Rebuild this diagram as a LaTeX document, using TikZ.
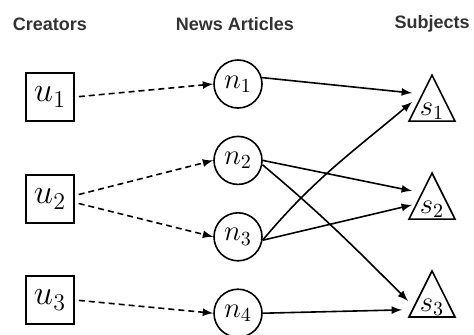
\documentclass[tikz,border=0pt]{standalone}
\usepackage{fontspec}
\newfontfamily\headfont{Liberation Sans}
\usetikzlibrary{shapes.geometric}
\usetikzlibrary{positioning}

\begin{document}
\begin{tikzpicture}[
  head/.style={font=\headfont\bfseries\fontsize{9}{11}\selectfont, text=black!80},
  creator/.style={thick, draw, rectangle, minimum size=24pt, inner sep=0pt, font=\LARGE},
  article/.style={thick, draw, circle, minimum size=24pt, inner sep=0pt, font=\Large},
  subject/.style={thick, draw, isosceles triangle, shape border rotate=90,
    isosceles triangle stretches, minimum width=23pt, minimum height=23pt,
    inner sep=0pt, font=\Large},
  link/.style={-latex, thick},
  wrote/.style={-latex, thick, densely dashed, shorten <=2pt}]
\useasboundingbox (0,0) rectangle (237pt,-167pt);
% column titles
\node[head] (creators) at (25pt,-12pt) {Creators};
\node[head] (articles) at (117.5pt,-12pt) {News Articles};
\node[head] (subjects) at (216pt,-12pt) {Subjects};
% creators
\node[creator] (u1) at (25pt,-48.5pt) {$u_1$};
\node[creator, below=26.2pt of u1] (u2) {$u_2$};
\node[creator, below=25.7pt of u2] (u3) {$u_3$};
% news articles
\node[article] (n1) at (119pt,-42pt) {$n_1$};
\node[article, below=13.4pt of n1] (n2) {$n_2$};
\node[article, below=13.4pt of n2] (n3) {$n_3$};
\node[article, below=13.4pt of n3] (n4) {$n_4$};
% subjects
\node[subject, anchor=north] (s1) at (216pt,-36.5pt) {$s_1$};
\node[subject, below=24.5pt of s1] (s2) {$s_2$};
\node[subject, below=24.5pt of s2] (s3) {$s_3$};
% creator -> article
\draw[wrote] (u1.east) -- (n1.west);
\draw[wrote] (u2.8) -- (n2.west);
\draw[wrote] (u2.-8) -- (n3.west);
\draw[wrote] (u3.east) -- (n4.west);
% article -> subject
\draw[link] (n1.15) -- ([xshift=-10pt,yshift=-10pt]s1.north);
\draw[link] (n3.-8) to[out=50, in=-140] ([xshift=-10pt,yshift=-14.5pt]s1.north);
\draw[link] (n2.east) -- ([xshift=-10pt,yshift=-10pt]s2.north);
\draw[link] (n3.-8) -- ([xshift=-10pt,yshift=-17pt]s2.north);
\draw[link] (n2.-10) to[out=-40, in=135] ([xshift=-12pt,yshift=-16pt]s3.north);
\draw[link] (n4.east) -- ([xshift=-15pt,yshift=-20.5pt]s3.north);
\end{tikzpicture}
\end{document}
